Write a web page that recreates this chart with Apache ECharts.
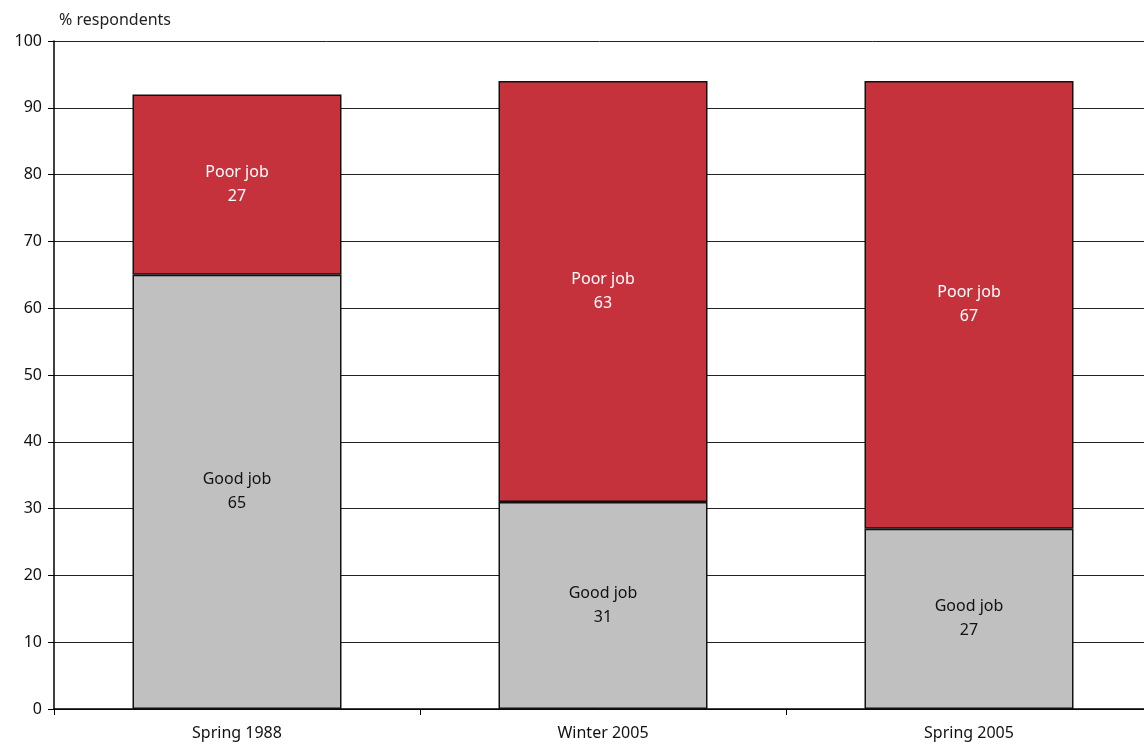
<!DOCTYPE html>
<html>
<head>
<meta charset="utf-8">
<script src="https://cdn.jsdelivr.net/npm/echarts@6/dist/echarts.min.js"></script>
<style>
  html, body { margin: 0; padding: 0; background: #fff; }
  #chart { width: 1144px; height: 750px; }
</style>
</head>
<body>
<div id="chart"></div>
<script>
const categories = ['Spring 1988', 'Winter 2005', 'Spring 2005'];
const goodJob = [65, 31, 27];
const poorJob = [27, 63, 67];
const yTicks = [0, 100, 10]; // min, max, interval

const font = 'Noto Sans';
const chart = echarts.init(document.getElementById('chart'));

function segLabel(name, color) {
  return {
    show: true,
    position: 'inside',
    color: color,
    fontFamily: font,
    fontSize: 16,
    lineHeight: 24,
    formatter: p => name + '\n' + p.value
  };
}

chart.setOption({
  animation: false,
  title: {
    text: '% respondents',
    left: 54, top: 7,
    textStyle: { fontFamily: font, fontSize: 16, fontWeight: 'normal', color: '#222' }
  },
  grid: { left: 54, width: 1098, top: 41, height: 668, outerBoundsMode: 'none', containLabel: false },
  xAxis: {
    type: 'category',
    data: categories,
    axisLine: { lineStyle: { color: '#000', width: 1.5 } },
    axisTick: { show: true, length: 6, lineStyle: { color: '#000' } },
    axisLabel: { fontFamily: font, fontSize: 16, color: '#111', margin: 16 }
  },
  yAxis: {
    type: 'value',
    min: yTicks[0], max: yTicks[1], interval: yTicks[2],
    axisLine: { show: true, lineStyle: { color: '#000', width: 1.5 } },
    axisTick: { show: true, length: 6, lineStyle: { color: '#000' } },
    axisLabel: { fontFamily: font, fontSize: 16, color: '#111', margin: 12 },
    splitLine: { show: true, lineStyle: { color: '#222', width: 1 } }
  },
  series: [
    {
      name: 'Good job', type: 'bar', stack: 'total', barWidth: 209,
      data: goodJob,
      itemStyle: { color: '#c0c0c0', borderColor: '#111', borderWidth: 1.5 },
      label: segLabel('Good job', '#111')
    },
    {
      name: 'Poor job', type: 'bar', stack: 'total', barWidth: 209,
      data: poorJob,
      itemStyle: { color: '#c5323c', borderColor: '#111', borderWidth: 1.5 },
      label: segLabel('Poor job', '#fff')
    }
  ]
});
</script>
</body>
</html>
